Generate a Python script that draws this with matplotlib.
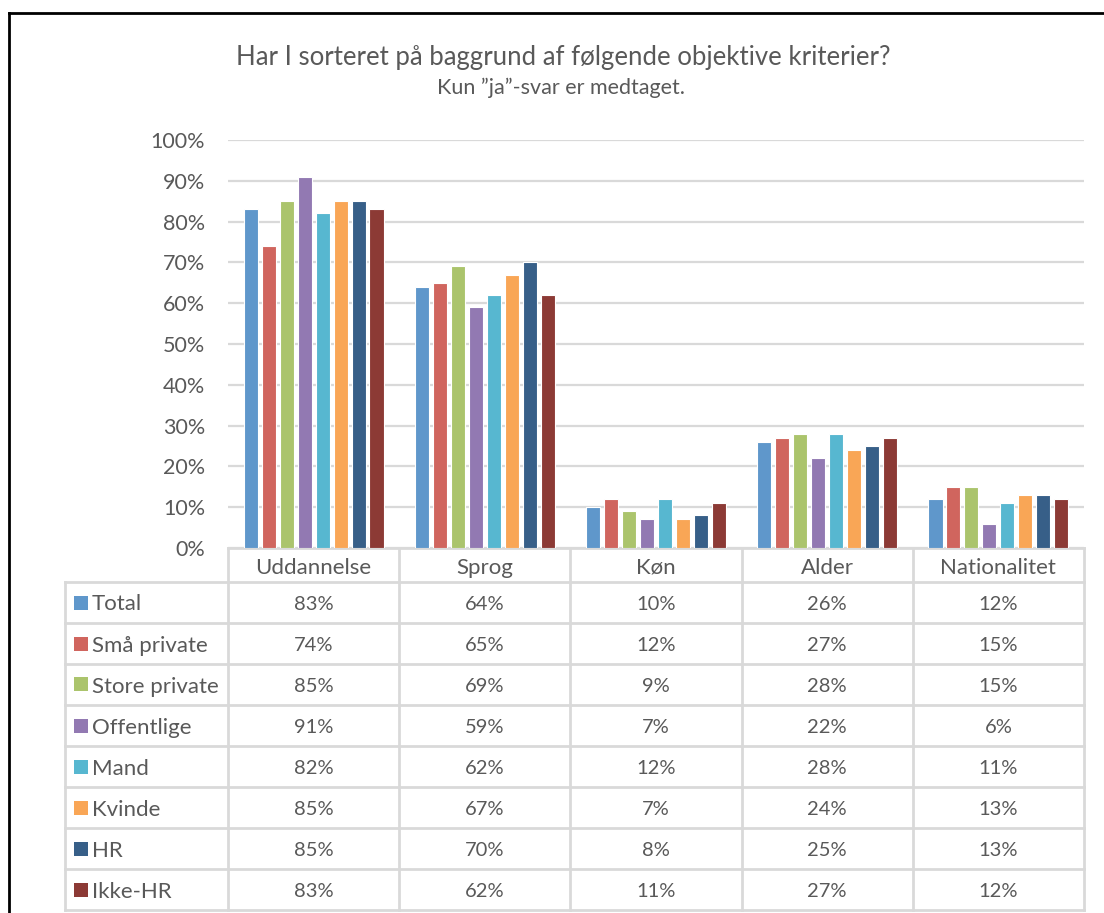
import matplotlib.pyplot as plt
from matplotlib.lines import Line2D
from matplotlib.patches import Rectangle
import matplotlib.transforms as mtransforms

plt.rcParams['font.family'] = ['Lato', 'DejaVu Sans']

# Data
categories = ['Uddannelse', 'Sprog', 'Køn', 'Alder', 'Nationalitet']
series_names = ['Total', 'Små private', 'Store private', 'Offentlige',
                'Mand', 'Kvinde', 'HR', 'Ikke-HR']
total = [83, 64, 10, 26, 12]
smaa_private = [74, 65, 12, 27, 15]
store_private = [85, 69, 9, 28, 15]
offentlige = [91, 59, 7, 22, 6]
mand = [82, 62, 12, 28, 11]
kvinde = [85, 67, 7, 24, 13]
hr = [85, 70, 8, 25, 13]
ikke_hr = [83, 62, 11, 27, 12]
series_values = [total, smaa_private, store_private, offentlige,
                 mand, kvinde, hr, ikke_hr]
colors = ['#5f97cb', '#d0655e', '#abc46c', '#9279b2',
          '#57b7d0', '#f9a656', '#375f88', '#8c3a35']

text_color = '#595959'
grid_color = '#d9d9d9'

W, H = 1104, 913
fig = plt.figure(figsize=(W / 100, H / 100), dpi=100)

# plot area (pixel coordinates from the reference)
left, right, top, bottom = 228, 1084, 140, 548
ax = fig.add_axes([left / W, 1 - bottom / H, (right - left) / W, (bottom - top) / H])

n = len(series_names)
step = 0.105
width = 0.082
for j, (name, vals) in enumerate(zip(series_names, series_values)):
    xs = [i + (j - (n - 1) / 2) * step for i in range(len(categories))]
    ax.bar(xs, [v / 100 for v in vals], width=width, color=colors[j],
           edgecolor='white', linewidth=0.8, zorder=3)

ax.set_xlim(-0.5, len(categories) - 0.5)
ax.set_ylim(0, 1)
ax.set_yticks([k / 10 for k in range(11)])
ax.set_yticklabels([f'{k * 10}%' for k in range(11)])
ax.tick_params(axis='y', length=0, pad=16.5, labelsize=15.5, labelcolor=text_color)
ax.set_xticks([])
ax.grid(axis='y', color=grid_color, linewidth=1.6, zorder=0)
for s in ax.spines.values():
    s.set_visible(False)

# data table below the plot, in data x / pixel-based y
trans = mtransforms.blended_transform_factory(ax.transData, ax.transAxes)
plot_h = bottom - top
row_h = 41


def ypos(px):
    # pixel y of figure -> axes fraction
    return (bottom - px) / plot_h


line_kw = dict(color=grid_color, linewidth=2, clip_on=False, transform=trans)
table_bottom = 582 + row_h * n
# horizontal lines
ax.add_line(Line2D([-0.5, 4.5], [ypos(548), ypos(548)], **line_kw))
for r in range(n + 1):
    y = 582 + r * row_h
    ax.add_line(Line2D([-0.5, 4.5], [ypos(y), ypos(y)], **line_kw))
# vertical lines for the value columns
for c in range(len(categories) + 1):
    ax.add_line(Line2D([c - 0.5, c - 0.5], [ypos(548), ypos(table_bottom)], **line_kw))

# legend column in figure pixel coords
fig_line_kw = dict(color=grid_color, linewidth=2, transform=fig.transFigure)
leg_left = 65
for r in range(n + 1):
    y = 1 - (582 + r * row_h) / H
    fig.add_artist(Line2D([leg_left / W, left / W], [y, y], **fig_line_kw))
fig.add_artist(Line2D([leg_left / W, leg_left / W],
                      [1 - 582 / H, 1 - table_bottom / H], **fig_line_kw))

# header labels
for i, cat in enumerate(categories):
    ax.text(i, ypos((548 + 582) / 2 + 3), cat, transform=trans, ha='center',
            va='center', fontsize=16, color=text_color)

# rows
for j, (name, vals) in enumerate(zip(series_names, series_values)):
    yc = 582 + row_h * j + row_h / 2
    for i, v in enumerate(vals):
        ax.text(i, ypos(yc + 2), f'{v}%', transform=trans, ha='center',
                va='center', fontsize=14.5, color=text_color)
    fig.add_artist(Rectangle((74 / W, 1 - (yc + 7) / H), 14 / W, 14 / H,
                             facecolor=colors[j], edgecolor='none',
                             transform=fig.transFigure))
    fig.text(92 / W, 1 - (yc + 2) / H, name, ha='left', va='center',
             fontsize=16, color=text_color)

# titles
fig.text(563 / W, 1 - 58 / H, 'Har I sorteret på baggrund af følgende objektive kriterier?',
         ha='center', va='center', fontsize=18.5, color=text_color)
fig.text(561 / W, 1 - 88 / H, 'Kun ”ja”-svar er medtaget.',
         ha='center', va='center', fontsize=15.5, color=text_color)

# black frame (top and left edges visible in the reference)
frame_kw = dict(color='black', linewidth=2, transform=fig.transFigure)
fig.add_artist(Line2D([8.5 / W, 1], [1 - 13.5 / H, 1 - 13.5 / H], **frame_kw))
fig.add_artist(Line2D([8.5 / W, 8.5 / W], [0, 1 - 13.5 / H], **frame_kw))

fig.savefig('out.png', dpi=100, facecolor='white')
